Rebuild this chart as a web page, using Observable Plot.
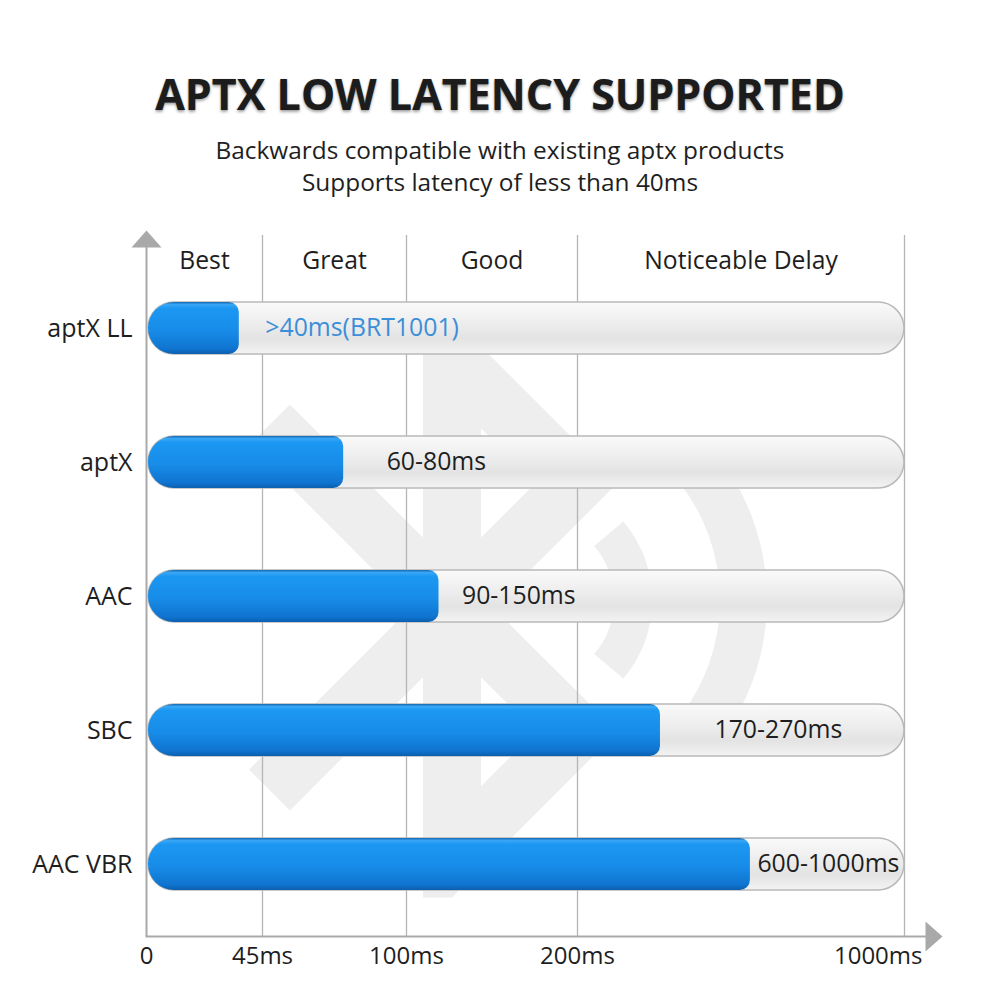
<!DOCTYPE html>
<html>
<head>
<meta charset="utf-8">
<script src="https://cdn.jsdelivr.net/npm/d3@7"></script>
<script src="https://cdn.jsdelivr.net/npm/@observablehq/plot@0.6"></script>
<style>
  html, body { margin: 0; padding: 0; background: #fff; }
  body { font-family: "Open Sans", "Noto Sans", sans-serif; width: 1000px; }
  #head { position: relative; height: 225px; width: 1000px; }
  #title {
    position: absolute; left: 0; width: 1000px; top: 69px; margin: 0;
    text-align: center; font-size: 43px; line-height: 50px; font-weight: 700;
    color: #1c1c1c;
    text-shadow: 0 2px 3px rgba(0,0,0,0.35), 0 0 1px rgba(0,0,0,0.3);
  }
  #sub {
    position: absolute; left: 0; width: 1000px; top: 134px; margin: 0;
    text-align: center; font-size: 24.4px; line-height: 32px; color: #1e1e1e;
  }
  #chart svg { display: block; }
</style>
</head>
<body>
<div id="head">
  <h1 id="title">APTX LOW LATENCY SUPPORTED</h1>
  <div id="sub">Backwards compatible with existing aptx products<br>Supports latency of less than 40ms</div>
</div>
<div id="chart"></div>
<script>
// ---- data ----
const categories = ["aptX LL", "aptX", "AAC", "SBC", "AAC VBR"];
const latency = [36, 76, 119, 403, 623];
const rangeLabels = [">40ms(BRT1001)", "60-80ms", "90-150ms", "170-270ms", "600-1000ms"];
const tickValues = [0, 45, 100, 200, 1000];
const tickLabels = ["0", "45ms", "100ms", "200ms", "1000ms"];
const zones = ["Best", "Great", "Good", "Noticeable Delay"];
const maxLatency = 1000;

// ---- derived tables ----
const rows = categories.map((c, i) => ({cat: c, latency: latency[i], label: rangeLabels[i]}));
const zoneRows = zones.map((z, i) => ({zone: z, mid: (tickValues[i] + tickValues[i + 1]) / 2}));
const tickRows = tickValues.map((v, i) => ({v, label: tickLabels[i]}));

// ---- styles ----
const labelGap = [26, 43, 23, 54, 7];
const font = '"Open Sans", "Noto Sans", sans-serif';
const axisGray = "#a9a9a9";
const wmGray = "#eeeeee";
const ns = "http://www.w3.org/2000/svg";

const defs = () => {
  const g = document.createElementNS(ns, "defs");
  g.innerHTML = `
    <linearGradient id="trackGrad" x1="0" y1="0" x2="0" y2="1">
      <stop offset="0" stop-color="#fafafa"/>
      <stop offset="0.45" stop-color="#ececec"/>
      <stop offset="0.7" stop-color="#e3e3e3"/>
      <stop offset="1" stop-color="#f3f3f3"/>
    </linearGradient>
    <linearGradient id="blueGrad" x1="0" y1="0" x2="0" y2="1">
      <stop offset="0" stop-color="#1766b0"/>
      <stop offset="0.05" stop-color="#3aa8f6"/>
      <stop offset="0.12" stop-color="#1b98f2"/>
      <stop offset="0.55" stop-color="#178ce8"/>
      <stop offset="0.9" stop-color="#0f74cf"/>
      <stop offset="1" stop-color="#0b5fae"/>
    </linearGradient>`;
  return g;
};

// faint Bluetooth watermark (decoration)
const arcPath = (r, a) => {
  const p = d3.path();
  p.arc(0, 0, r, -a, a);
  return p.toString();
};
const watermark = () => {
  const g = document.createElementNS(ns, "g");
  g.innerHTML = `
    <path transform="translate(104,34.4) scale(29)" fill="${wmGray}" fill-rule="evenodd"
      d="M17.71 7.71L12 2h-1v7.59L6.41 5 5 6.41 10.59 12 5 17.59 6.41 19 11 14.41V22h1l5.71-5.71-4.3-4.29 4.3-4.29zM13 5.83l1.88 1.88L13 9.59V5.83zm1.88 10.46L13 18.17v-3.76l1.88 1.88z"/>
    <path transform="translate(530,375)" fill="none" stroke="${wmGray}" stroke-width="47" d="${arcPath(213.5, 0.66)}"/>
    <path transform="translate(530,375)" fill="none" stroke="${wmGray}" stroke-width="38" d="${arcPath(103, 0.7)}"/>`;
  return g;
};

const arrowShape = {
  draw(ctx, l) {
    ctx.moveTo(-15, 0);
    ctx.lineTo(15, 0);
    ctx.lineTo(0, -l);
    ctx.closePath();
  }
};

const chart = Plot.plot({
  width: 1000,
  height: 775,
  marginLeft: 146,
  marginRight: 96,
  marginTop: 10,
  marginBottom: 64,
  style: {fontFamily: font, background: "transparent", overflow: "visible"},
  x: {type: "linear", domain: tickValues, range: [146, 262, 406, 577, 904], axis: null},
  y: {type: "band", domain: categories, paddingInner: 0.612, paddingOuter: 0.4176, align: 0.589, axis: null},
  marks: [
    defs,
    watermark,
    // vertical grid lines
    Plot.ruleX(tickValues.slice(1), {x: d => d, stroke: "#b5b5b5", strokeWidth: 1.3}),
    // y axis line
    Plot.ruleX([0], {x: d => d, stroke: axisGray, strokeWidth: 2, insetTop: 12}),
    // x axis line
    Plot.frame({anchor: "bottom", stroke: axisGray, strokeWidth: 2, insetRight: -22}),
    // arrows
    Plot.vector([0], {x: d => d, frameAnchor: "top", anchor: "start", length: 17, dy: 12, shape: arrowShape, fill: axisGray, stroke: "none"}),
    Plot.vector([maxLatency], {x: d => d, frameAnchor: "bottom", anchor: "start", length: 17, rotate: 90, dx: 21, shape: arrowShape, fill: axisGray, stroke: "none"}),
    // tracks
    Plot.barX(rows, {y: "cat", x1: () => 0, x2: () => maxLatency, insetLeft: 2, rx: 26, fill: "url(#trackGrad)", stroke: "#b9b9b9", strokeWidth: 1.5}),
    // blue bars (rounded left, smaller radius right)
    Plot.barX(rows, {y: "cat", x1: () => 0, x2: "latency", insetLeft: 2, insetRight: 14, rx: 26, fill: "url(#blueGrad)"}),
    Plot.barX(rows, {y: "cat", x1: () => 0, x2: "latency", insetLeft: 28, rx: 10, fill: "url(#blueGrad)"}),
    // value labels
    ...rows.map((r, i) => Plot.text([r], {
      y: "cat", x: "latency", text: "label", textAnchor: "start", dx: labelGap[i],
      fontSize: 24.8, fill: i === 0 ? "#3b8fd8" : "#1e1e1e"
    })),
    // zone headers
    Plot.text(zoneRows, {x: "mid", text: "zone", frameAnchor: "top", dy: 16, fontSize: 24.7, fill: "#1e1e1e"}),
    // category labels
    Plot.text(rows, {y: "cat", text: "cat", frameAnchor: "left", textAnchor: "end", dx: -14, fontSize: 25, fill: "#1e1e1e"}),
    // tick labels
    Plot.text(tickRows.slice(0, -1), {x: "v", text: "label", frameAnchor: "bottom", dy: 27, fontSize: 24, fill: "#1e1e1e"}),
    Plot.text(tickRows.slice(-1), {x: "v", text: "label", frameAnchor: "bottom", dy: 27, dx: 18, textAnchor: "end", fontSize: 24, fill: "#1e1e1e"})
  ]
});
document.getElementById("chart").appendChild(chart);
</script>
</body>
</html>
